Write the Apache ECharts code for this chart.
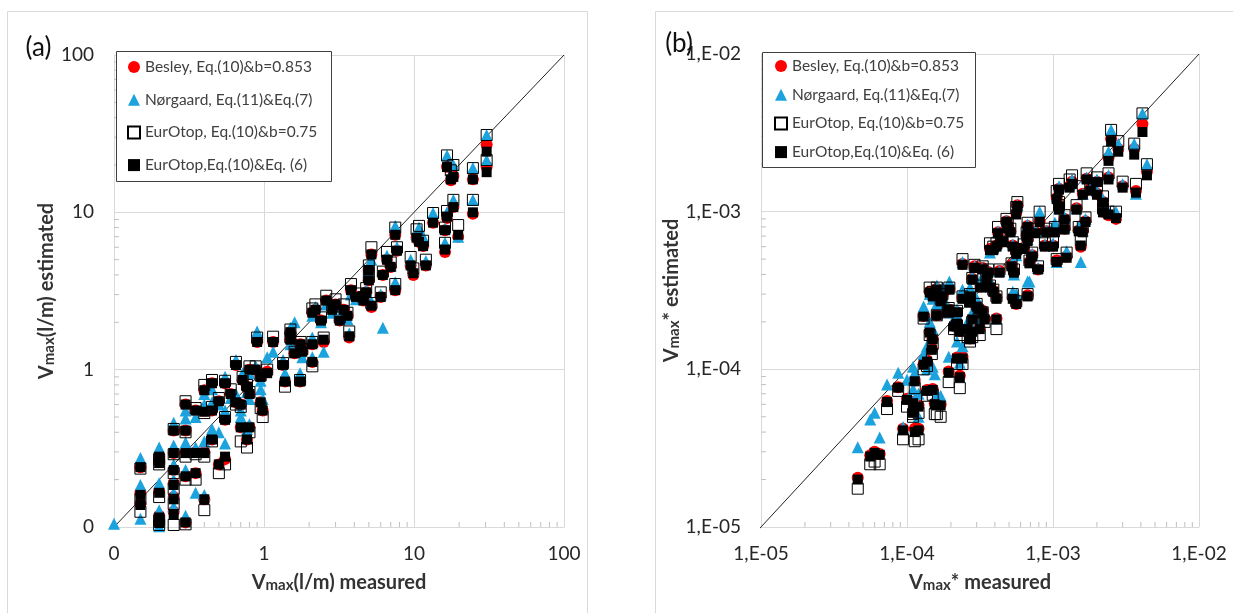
<!DOCTYPE html>
<html><head><meta charset="utf-8">
<script src="https://cdn.jsdelivr.net/npm/echarts@6/dist/echarts.min.js"></script>
<style>html,body{margin:0;padding:0;background:#fff}#c{width:1233px;height:613px}</style>
</head><body><div id="c"></div>
<script>
const seriesNames = ['Besley, Eq.(10)&b=0.853', 'Nørgaard, Eq.(11)&Eq.(7)', 'EurOtop, Eq.(10)&b=0.75', 'EurOtop,Eq.(10)&Eq. (6)'];

// ---- Panel (a): Vmax (l/m) ----
const measuredA = [0.1,0.15,0.15,0.15,0.2,0.2,0.2,0.2,0.2,0.25,0.25,0.25,0.25,0.25,0.25,0.3,0.3,0.3,0.3,0.3,0.35,0.35,0.35,0.4,0.4,0.4,0.4,0.45,0.45,0.45,0.5,0.5,0.55,0.55,0.55,0.6,0.65,0.65,0.7,0.7,0.72,0.77,0.77,0.8,0.8,0.8,0.88,0.9,0.95,0.95,0.98,1.05,1.15,1.34,1.38,1.5,1.5,1.6,1.74,1.75,1.8,2.1,2.1,2.2,2.1,2.4,2.5,2.6,2.85,3.0,3.2,3.4,3.6,3.7,3.8,4.1,4.6,4.8,5.0,5.0,5.2,5.2,6.0,6.2,6.6,7.0,7.5,7.5,7.7,9.5,9.9,10.4,10.8,11.5,12,13.4,16.1,16.1,16.6,16.6,17.6,18.3,18.3,19.7,24.7,24.7,30.5,30.5];
const besleyA = [null,0.24,0.165,0.14,0.28,0.26,0.17,0.118,0.108,0.295,0.23,0.19,0.155,0.125,0.41,0.3,0.21,0.41,0.6,0.107,0.3,0.22,0.55,0.3,0.15,0.74,0.55,0.36,0.82,0.55,0.25,0.63,0.48,0.27,0.82,0.7,1.07,0.62,0.6,0.43,0.86,0.78,0.36,0.43,0.7,1.0,1.0,1.5,0.62,0.9,0.55,0.97,1.5,1.07,0.84,1.73,1.55,1.27,0.84,1.45,1.3,1.45,2.3,2.4,1.12,2.05,1.5,2.75,2.4,2.6,2.05,2.4,2.2,1.6,3.2,2.9,2.75,3.1,3.7,4.3,5.4,2.5,2.9,4.0,5.0,4.5,7.2,3.2,5.7,4.6,4.0,6.9,6.5,6.1,4.6,8.6,7.7,5.6,9.2,19.5,16,17,10.8,7.0,16.2,9.8,19.5,27];
const norgaardA = [0.105,0.275,0.185,0.113,0.32,0.28,0.19,0.128,0.101,0.33,0.25,0.2,0.165,0.135,0.46,0.345,0.23,0.49,0.55,0.118,0.32,0.165,0.5,0.35,0.16,0.7,0.6,0.42,0.75,0.62,0.4,0.6,0.55,0.34,0.9,0.66,1.15,0.7,0.55,0.5,0.95,0.72,0.42,0.45,0.65,0.95,1.05,1.75,0.75,0.85,0.65,1.2,1.3,1.15,0.95,1.85,1.45,2.0,0.95,1.3,1.2,1.6,2.2,2.5,1.2,2.0,1.3,2.6,2.3,2.5,2.2,2.3,2.1,1.7,3.0,2.8,2.9,3.2,4.2,4.5,5.0,2.7,3.0,1.85,5.3,4.6,8.2,3.6,6.0,5.0,4.3,7.3,8.0,7.0,4.9,9.9,7.9,6.4,10,23,17.5,20,12,7.0,19.1,12,21.5,31];
const eurotopBA = [null,0.235,0.15,0.125,0.27,0.25,0.155,0.11,0.103,0.29,0.22,0.175,0.14,0.103,0.42,0.28,0.2,0.4,0.63,0.104,0.29,0.2,0.57,0.28,0.128,0.8,0.53,0.35,0.86,0.58,0.22,0.66,0.5,0.25,0.85,0.75,1.12,0.6,0.58,0.35,0.9,0.8,0.32,0.4,0.72,1.05,1.05,1.6,0.57,0.92,0.5,1.0,1.62,1.1,0.78,1.8,1.6,1.3,0.86,1.5,1.35,1.5,2.45,2.6,1.05,2.15,1.6,2.95,2.55,2.8,2.15,2.6,2.3,1.75,3.5,3.05,2.9,3.3,3.9,4.6,6.0,2.65,3.1,4.2,5.6,4.8,8.0,3.5,6.0,5.2,4.4,7.8,8.2,6.6,5.0,9.9,8.0,6.4,10.2,23,18.5,20,12,8.3,19.1,12,21.5,31];
const eurotopEA = [null,0.24,0.16,0.138,0.28,0.255,0.165,0.115,0.106,0.295,0.23,0.185,0.15,0.12,0.41,0.295,0.21,0.41,0.6,0.107,0.295,0.22,0.55,0.295,0.15,0.74,0.54,0.36,0.82,0.55,0.25,0.63,0.48,0.28,0.82,0.7,1.07,0.62,0.6,0.43,0.86,0.78,0.36,0.43,0.7,1.0,1.0,1.5,0.62,0.9,0.55,0.95,1.5,1.07,0.84,1.73,1.55,1.27,0.84,1.45,1.3,1.45,2.3,2.4,1.12,2.05,1.55,2.75,2.4,2.6,2.05,2.4,2.2,1.63,3.2,2.9,2.75,3.1,3.7,4.3,5.4,2.55,2.9,4.0,5.0,4.5,7.2,3.2,5.7,4.6,4.1,6.9,6.5,6.1,4.6,8.6,7.7,5.8,9.4,19.4,16.2,16.8,10.8,7.2,16.2,10,18,24.3];
const oneToOneA = [0.088, 100];
const axisRangeA = [0.1, 100];
const tickValuesA = [0.1, 1, 10, 100];
const tickLabelsA = ['0', '1', '10', '100'];
const minorTicksA = [0.2,0.3,0.4,0.5,0.6,0.7,0.8,0.9,2,3,4,5,6,7,8,9,20,30,40,50,60,70,80,90];

// ---- Panel (b): Vmax* ----
const measuredB = [4.6e-5,5.6e-5,6.0e-5,6.5e-5,7.3e-5,8.7e-5,9.4e-5,1.0e-4,1.1e-4,1.13e-4,1.13e-4,1.2e-4,1.2e-4,1.1e-4,1.3e-4,1.37e-4,1.37e-4,1.5e-4,1.55e-4,1.6e-4,1.7e-4,1.48e-4,1.43e-4,1.5e-4,1.6e-4,1.3e-4,1.5e-4,1.43e-4,1.7e-4,1.93e-4,1.93e-4,2.2e-4,2.3e-4,2.4e-4,2.2e-4,2.2e-4,2.3e-4,2.7e-4,2.8e-4,3.4e-4,4.1e-4,2.4e-4,2.7e-4,3.1e-4,3.2e-4,3.6e-4,3.7e-4,4.2e-4,4.9e-4,4.5e-4,5.4e-4,5.6e-4,6.3e-4,6.7e-4,7.6e-4,5.6e-4,5.6e-4,6.7e-4,7.9e-4,8.1e-4,1.06e-3,1.24e-3,1.06e-3,1.1e-3,1.3e-3,1.55e-3,1.7e-3,1.8e-3,2.0e-3,2.2e-3,2.4e-3,2.7e-3,1.6e-3,1.67e-3,1.5e-3,2.2e-3,4.1e-3,2.5e-3,2.8e-3,2.4e-3,3.6e-3,4.4e-3,3.7e-3,3.0e-3,2.4e-3,1.35e-3,2.0e-3,1.45e-3,1.6e-3,1.1e-3,1.1e-3,1.2e-3,1.03e-3,1.2e-3,1.0e-3,6.9e-4,5.7e-4,4.8e-4,6.7e-4,6.6e-4,5.1e-4,4.1e-4,9.0e-4,8.8e-4,7.2e-4,5.3e-4,3.9e-4,4.5e-4,2.9e-4,3.3e-4,4.3e-4,5.2e-4,3.7e-4,3.9e-4,4.1e-4,5.3e-4,2.8e-4,3.5e-4,1.75e-4,1.95e-4,2.4e-4,2.7e-4,3.0e-4,1.6e-4,1.9e-4,2.6e-4,2.1e-4,3.15e-4,3.3e-4,2.8e-4];
const besleyB = [2.05e-5,2.85e-5,3.0e-5,2.9e-5,6.3e-5,7.7e-5,4.2e-5,6.5e-5,6.2e-5,4.2e-5,8.5e-5,4.2e-5,5.9e-5,5.4e-5,1.08e-4,7.4e-5,1.14e-4,7.5e-5,6.1e-5,6.0e-5,6.0e-5,1.35e-4,1.73e-4,1.57e-4,2.2e-4,2.18e-4,2.95e-4,3.1e-4,2.75e-4,2.4e-4,9.7e-5,1.19e-4,9.1e-5,1.2e-4,2.3e-4,1.97e-4,1.75e-4,1.57e-4,1.75e-4,2.1e-4,2.1e-4,4.65e-4,2.9e-4,2.45e-4,3.35e-4,4.15e-4,5.8e-4,7.4e-4,8.1e-4,6.6e-4,4.15e-4,5.5e-4,5.9e-4,6.6e-4,7.4e-4,9.8e-4,2.6e-4,2.95e-4,4.3e-4,8.7e-4,4.9e-4,5.2e-4,1.22e-3,1.1e-3,1.45e-3,6.0e-4,1.62e-3,1.38e-3,1.3e-3,1.15e-3,9.5e-4,9.0e-4,1.3e-3,8.7e-4,7.6e-4,1.0e-3,3.6e-3,2.9e-3,2.5e-3,2.2e-3,2.5e-3,1.8e-3,1.35e-3,1.45e-3,1.65e-3,1.55e-3,1.55e-3,1.05e-3,7.5e-4,1.4e-3,1.05e-3,9.0e-4,7.5e-4,7.8e-4,6.1e-4,4.8e-4,1.1e-3,8.7e-4,8.1e-4,7.1e-4,7.5e-4,6.1e-4,7.5e-4,6.1e-4,5.3e-4,6.1e-4,5.8e-4,6.5e-4,4.5e-4,4.4e-4,4.2e-4,4.6e-4,3.35e-4,3.15e-4,2.85e-4,2.85e-4,3.75e-4,3.75e-4,2.95e-4,3.25e-4,2.85e-4,2.7e-4,2.55e-4,3.25e-4,2.35e-4,1.82e-4,1.9e-4,1.82e-4,2.35e-4,2.1e-4];
const norgaardB = [3.2e-5,4.8e-5,5.3e-5,3.7e-5,8.0e-5,9.5e-5,4.3e-5,8.6e-5,1.04e-4,6.5e-5,9.5e-5,5.0e-5,7.0e-5,7.5e-5,1.25e-4,1.0e-4,1.4e-4,1.04e-4,9.3e-5,7.0e-5,6.8e-5,1.6e-4,2.0e-4,1.8e-4,2.6e-4,2.5e-4,2.8e-4,3.0e-4,2.6e-4,2.3e-4,1.2e-4,1.5e-4,1.1e-4,1.4e-4,2.2e-4,2.4e-4,1.9e-4,1.7e-4,1.8e-4,2.3e-4,2.1e-4,4.8e-4,3.3e-4,2.6e-4,3.7e-4,4.2e-4,5.5e-4,7.5e-4,8.2e-4,6.6e-4,4.0e-4,5.3e-4,6.0e-4,6.7e-4,7.6e-4,1.07e-3,3.0e-4,3.6e-4,4.4e-4,1.0e-3,4.8e-4,5.6e-4,1.25e-3,1.1e-3,1.5e-3,4.8e-4,1.65e-3,1.4e-3,1.35e-3,1.2e-3,1.0e-3,1.0e-3,1.3e-3,9.0e-4,8.0e-4,1.05e-3,4.2e-3,3.3e-3,2.7e-3,2.4e-3,2.7e-3,2.0e-3,1.3e-3,1.5e-3,1.7e-3,1.6e-3,1.6e-3,1.05e-3,7.6e-4,1.45e-3,1.05e-3,9.3e-4,8.5e-4,8.0e-4,6.3e-4,3.6e-4,1.1e-3,8.8e-4,8.3e-4,7.2e-4,7.6e-4,6.2e-4,7.6e-4,6.2e-4,5.4e-4,6.2e-4,5.9e-4,6.6e-4,4.5e-4,4.4e-4,4.2e-4,4.6e-4,3.6e-4,3.3e-4,3.0e-4,3.1e-4,3.9e-4,3.9e-4,3.3e-4,3.6e-4,3.2e-4,3.0e-4,2.8e-4,3.4e-4,2.5e-4,2.0e-4,2.1e-4,2.0e-4,2.4e-4,2.3e-4];
const eurotopBB = [1.75e-5,2.5e-5,2.6e-5,2.5e-5,5.6e-5,7.3e-5,3.6e-5,5.8e-5,5.2e-5,3.5e-5,7.6e-5,3.6e-5,5.3e-5,5.0e-5,1.0e-4,6.8e-5,1.05e-4,6.9e-5,5.2e-5,5.2e-5,5.0e-5,1.25e-4,1.65e-4,1.45e-4,2.2e-4,2.1e-4,3.1e-4,3.3e-4,2.8e-4,2.45e-4,8.3e-5,1.08e-4,7.6e-5,1.08e-4,2.35e-4,1.9e-4,1.65e-4,1.5e-4,1.6e-4,2.0e-4,1.8e-4,5.0e-4,3.0e-4,2.3e-4,3.4e-4,4.3e-4,6.3e-4,8.0e-4,8.5e-4,6.8e-4,4.3e-4,5.8e-4,6.2e-4,7.0e-4,7.8e-4,1.07e-3,2.7e-4,3.0e-4,4.5e-4,1.0e-3,5.0e-4,5.5e-4,1.35e-3,1.15e-3,1.6e-3,6.6e-4,1.75e-3,1.5e-3,1.45e-3,1.25e-3,1.0e-3,1.0e-3,1.45e-3,9.2e-4,8.0e-4,1.05e-3,4.2e-3,3.3e-3,2.8e-3,2.4e-3,2.7e-3,2.0e-3,1.5e-3,1.55e-3,1.75e-3,1.7e-3,1.65e-3,1.1e-3,8.0e-4,1.5e-3,1.1e-3,9.5e-4,8.0e-4,8.2e-4,6.4e-4,4.9e-4,1.15e-3,9.0e-4,8.5e-4,7.4e-4,7.8e-4,6.3e-4,7.8e-4,6.3e-4,5.5e-4,6.4e-4,6.0e-4,6.8e-4,4.6e-4,4.5e-4,4.3e-4,4.7e-4,3.4e-4,3.2e-4,2.9e-4,3.0e-4,3.8e-4,3.8e-4,3.0e-4,3.3e-4,2.9e-4,2.7e-4,2.6e-4,3.3e-4,2.3e-4,1.6e-4,1.8e-4,1.65e-4,2.3e-4,2.0e-4];
const eurotopEB = [2.0e-5,2.8e-5,2.95e-5,2.87e-5,6.2e-5,7.65e-5,4.1e-5,6.4e-5,6.1e-5,4.0e-5,8.4e-5,4.1e-5,5.8e-5,5.3e-5,1.07e-4,7.3e-5,1.12e-4,7.4e-5,6.0e-5,5.9e-5,5.9e-5,1.33e-4,1.71e-4,1.55e-4,2.2e-4,2.16e-4,2.9e-4,3.07e-4,2.7e-4,2.4e-4,9.5e-5,1.17e-4,8.9e-5,1.17e-4,2.3e-4,1.95e-4,1.73e-4,1.55e-4,1.73e-4,2.07e-4,2.07e-4,4.6e-4,2.9e-4,2.4e-4,3.3e-4,4.1e-4,5.7e-4,7.3e-4,8.0e-4,6.5e-4,4.1e-4,5.4e-4,5.8e-4,6.5e-4,7.3e-4,9.6e-4,2.6e-4,2.9e-4,4.3e-4,8.6e-4,4.8e-4,5.1e-4,1.2e-3,1.08e-3,1.42e-3,6.1e-4,1.6e-3,1.36e-3,1.28e-3,1.14e-3,9.6e-4,9.1e-4,1.28e-3,8.6e-4,7.5e-4,9.9e-4,3.2e-3,2.8e-3,2.4e-3,2.1e-3,2.3e-3,1.7e-3,1.32e-3,1.42e-3,1.6e-3,1.5e-3,1.54e-3,1.03e-3,7.4e-4,1.38e-3,1.03e-3,8.9e-4,7.4e-4,7.7e-4,6.0e-4,4.7e-4,1.08e-3,8.6e-4,8.0e-4,7.0e-4,7.4e-4,6.0e-4,7.4e-4,6.0e-4,5.2e-4,6.0e-4,5.7e-4,6.4e-4,4.4e-4,4.3e-4,4.1e-4,4.5e-4,3.3e-4,3.1e-4,2.8e-4,2.8e-4,3.7e-4,3.7e-4,2.9e-4,3.2e-4,2.8e-4,2.65e-4,2.5e-4,3.2e-4,2.3e-4,1.8e-4,1.87e-4,1.8e-4,2.3e-4,2.07e-4];
const oneToOneB = [8.7e-6, 1e-2];
const axisRangeB = [1e-5, 1e-2];
const tickValuesB = [1e-5, 1e-4, 1e-3, 1e-2];
const tickLabelsB = ['1,E-05', '1,E-04', '1,E-03', '1,E-02'];
const minorTicksB = [2e-5,3e-5,4e-5,5e-5,6e-5,7e-5,8e-5,9e-5,2e-4,3e-4,4e-4,5e-4,6e-4,7e-4,8e-4,9e-4,2e-3,3e-3,4e-3,5e-3,6e-3,7e-3,8e-3,9e-3];

// ---- styling ----
const FONT = 'Lato, "Open Sans", sans-serif';
const GRID_COLOR = '#d9d9d9';
const TEXT_COLOR = '#262626';

function pairs(xs, ys) {
  const out = [];
  for (let i = 0; i < xs.length; i++) {
    if (ys[i] != null) out.push([xs[i], ys[i]]);
  }
  return out;
}
function labelFmt(values, labels) {
  const base = Math.round(Math.log10(values[0]));
  return function (v) {
    const idx = Math.round(Math.log10(v)) - base;
    return labels[idx] !== undefined ? labels[idx] : '';
  };
}
function nameRich() {
  return {
    v: { fontFamily: FONT, fontSize: 20, fontWeight: 'bold', color: '#333', verticalAlign: 'middle' },
    m: { fontFamily: FONT, fontSize: 15, fontWeight: 'bold', color: '#333', verticalAlign: 'bottom' }
  };
}
function logAxis(gridIndex, range, tv, tl, name, nameGap, isY) {
  return {
    type: 'log', logBase: 10, gridIndex: gridIndex, min: range[0], max: range[1],
    axisLine: { show: true, lineStyle: { color: GRID_COLOR, width: 1 } },
    axisTick: { show: false },
    splitLine: { show: true, lineStyle: { color: GRID_COLOR, width: 1 } },
    minorTick: { show: false },
    axisLabel: { formatter: labelFmt(tv, tl), fontFamily: FONT, fontSize: 19, color: TEXT_COLOR, margin: isY ? 20 : 17 },
    name: name, nameLocation: 'middle', nameGap: nameGap,
    nameTextStyle: { rich: nameRich() }
  };
}
function tickSeries(xi, yi, data, dir) {
  return {
    type: 'custom', xAxisIndex: xi, yAxisIndex: yi, silent: true, clip: false, z: 1,
    data: data,
    renderItem: function (params, api) {
      const p = api.coord([api.value(0), api.value(1)]);
      const shape = dir === 'x'
        ? { x1: p[0], y1: p[1], x2: p[0], y2: p[1] - 5 }
        : { x1: p[0], y1: p[1], x2: p[0] + 5, y2: p[1] };
      return { type: 'line', shape: shape, style: { stroke: '#bfbfbf', lineWidth: 1 } };
    }
  };
}
function panelSeries(idx, xs, bes, nor, eurB, eurE, oneToOne) {
  return [
    { type: 'line', xAxisIndex: idx, yAxisIndex: idx, data: [[oneToOne[0], oneToOne[0]], [oneToOne[1], oneToOne[1]]],
      symbol: 'none', clip: false, silent: true, z: 1, lineStyle: { color: '#222', width: 1 } },
    { name: seriesNames[0], type: 'scatter', xAxisIndex: idx, yAxisIndex: idx, data: pairs(xs, bes),
      symbol: 'circle', symbolSize: 12, itemStyle: { color: '#ff0000', opacity: 1 }, z: 2 },
    { name: seriesNames[1], type: 'scatter', xAxisIndex: idx, yAxisIndex: idx, data: pairs(xs, nor),
      symbol: 'triangle', symbolSize: 12, itemStyle: { color: '#1ca3de', opacity: 1 }, z: 2 },
    { name: seriesNames[2], type: 'scatter', xAxisIndex: idx, yAxisIndex: idx, data: pairs(xs, eurB),
      symbol: 'rect', symbolSize: 11, itemStyle: { color: 'rgba(255,255,255,0)', borderColor: '#000', borderWidth: 1, opacity: 1 }, z: 2 },
    { name: seriesNames[3], type: 'scatter', xAxisIndex: idx, yAxisIndex: idx, data: pairs(xs, eurE),
      symbol: 'rect', symbolSize: 10, itemStyle: { color: '#000', opacity: 1 }, z: 2 }
  ];
}

const chart = echarts.init(document.getElementById('c'), null, { renderer: 'canvas' });
const option = {
  animation: false,
  backgroundColor: '#ffffff',
  grid: [
    { left: 114, top: 55, width: 450, height: 472, outerBoundsMode: 'none', containLabel: false },
    { left: 761, top: 54, width: 438, height: 473, outerBoundsMode: 'none', containLabel: false }
  ],
  xAxis: [
    logAxis(0, axisRangeA, tickValuesA, tickLabelsA, '{v|V}{m|max}{v|(l/m) measured}', 46, false),
    logAxis(1, axisRangeB, tickValuesB, tickLabelsB, '{v|V}{m|max}{v|* measured}', 46, false)
  ],
  yAxis: [
    logAxis(0, axisRangeA, tickValuesA, tickLabelsA, '{v|V}{m|max}{v|(l/m) estimated}', 56, true),
    logAxis(1, axisRangeB, tickValuesB, tickLabelsB, '{v|V}{m|max}{v|* estimated}', 78, true)
  ],
  legend: [
    { data: seriesNames, orient: 'vertical', left: 127, top: 59, padding: 0, itemWidth: 12, itemHeight: 12, itemGap: 16.7,
      selectedMode: false, textStyle: { fontFamily: FONT, fontSize: 15.5, color: '#404040' } },
    { data: seriesNames, orient: 'vertical', left: 774, top: 58, padding: 0, itemWidth: 12, itemHeight: 12, itemGap: 12.7,
      selectedMode: false, textStyle: { fontFamily: FONT, fontSize: 15.5, color: '#404040' } }
  ],
  graphic: [
    { type: 'rect', z: 0, silent: true, shape: { x: 7.5, y: 11.5, width: 580, height: 620 }, style: { fill: 'none', stroke: GRID_COLOR, lineWidth: 1 } },
    { type: 'rect', z: 0, silent: true, shape: { x: 655.5, y: 11.5, width: 620, height: 620 }, style: { fill: 'none', stroke: GRID_COLOR, lineWidth: 1 } },
    { type: 'rect', z: 3, silent: true, shape: { x: 116.5, y: 51.5, width: 215, height: 130 }, style: { fill: '#fff', stroke: '#404040', lineWidth: 1 } },
    { type: 'rect', z: 3, silent: true, shape: { x: 762.5, y: 52.5, width: 213, height: 115 }, style: { fill: '#fff', stroke: '#404040', lineWidth: 1 } },
    { type: 'text', z: 5, silent: true, x: 38.5, y: 48, style: { text: '(a)', font: '26px ' + FONT, fill: '#111', align: 'center', verticalAlign: 'middle' } },
    { type: 'text', z: 5, silent: true, x: 679, y: 44, style: { text: '(b)', font: '26px ' + FONT, fill: '#111', align: 'center', verticalAlign: 'middle' } }
  ],
  series: [].concat(
    [tickSeries(0, 0, minorTicksA.map(v => [v, axisRangeA[0]]), 'x'),
     tickSeries(0, 0, minorTicksA.map(v => [axisRangeA[0], v]), 'y'),
     tickSeries(1, 1, minorTicksB.map(v => [v, axisRangeB[0]]), 'x'),
     tickSeries(1, 1, minorTicksB.map(v => [axisRangeB[0], v]), 'y')],
    panelSeries(0, measuredA, besleyA, norgaardA, eurotopBA, eurotopEA, oneToOneA),
    panelSeries(1, measuredB, besleyB, norgaardB, eurotopBB, eurotopEB, oneToOneB)
  )
};
chart.setOption(option);
</script>
</body></html>
